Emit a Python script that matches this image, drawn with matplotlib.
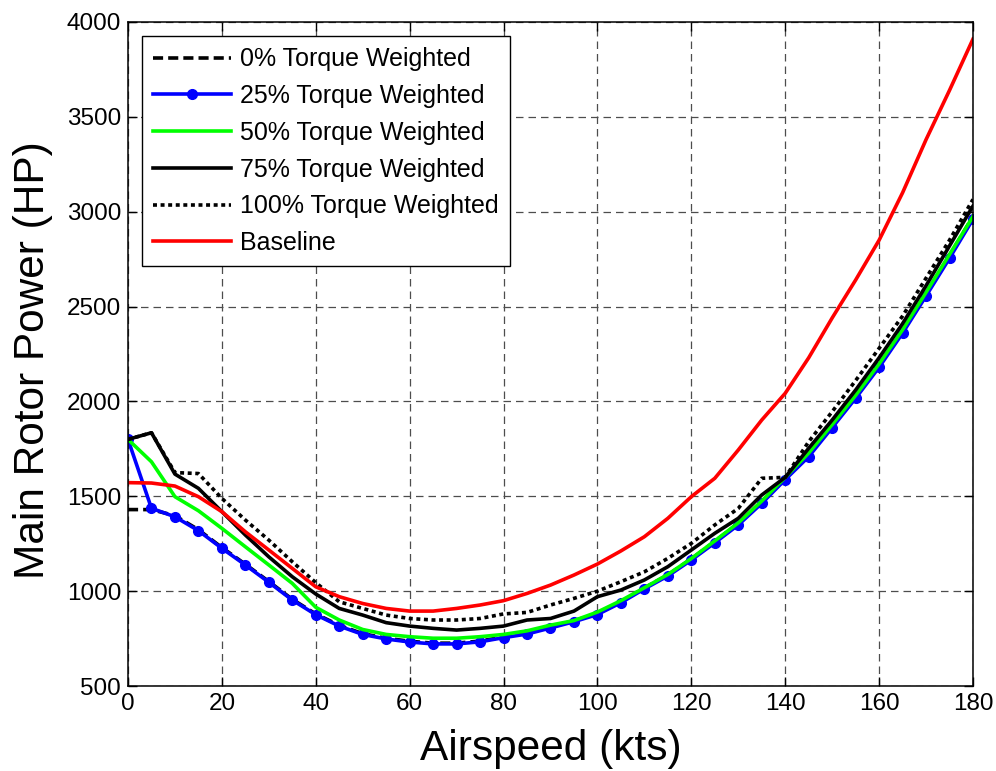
import matplotlib
matplotlib.use("Agg")
import matplotlib.pyplot as plt

plt.rcParams['font.family'] = ['Liberation Sans', 'DejaVu Sans']

airspeed = list(range(0, 181, 5))

tw0 = [1430, 1430, 1398, 1324, 1230, 1142, 1051, 957, 880, 820, 776, 752, 736, 726,
       726, 737, 759, 779, 811, 844, 882, 944, 1017, 1086, 1170, 1262, 1357, 1471,
       1596, 1719, 1872, 2028, 2192, 2372, 2568, 2768, 2975]
tw25 = [1800, 1437, 1392, 1319, 1226, 1138, 1047, 953, 876, 816, 772, 748, 732, 722,
        722, 733, 755, 774, 806, 839, 877, 939, 1012, 1080, 1164, 1255, 1349, 1463,
        1588, 1709, 1862, 2017, 2180, 2360, 2556, 2755, 2961]
tw50 = [1800, 1682, 1498, 1424, 1331, 1234, 1138, 1041, 915, 848, 798, 772, 760, 752,
        752, 760, 772, 791, 821, 845, 890, 950, 1018, 1088, 1172, 1265, 1360, 1475,
        1600, 1728, 1878, 2032, 2198, 2378, 2575, 2775, 2975]
tw75 = [1800, 1835, 1617, 1542, 1419, 1296, 1181, 1076, 985, 909, 874, 834, 816, 804,
        795, 804, 816, 848, 856, 895, 971, 1006, 1059, 1129, 1217, 1305, 1384, 1507,
        1600, 1753, 1902, 2060, 2230, 2410, 2610, 2820, 3030]
tw100 = [1800, 1835, 1625, 1620, 1489, 1375, 1269, 1155, 1045, 944, 909, 874, 856, 848,
         848, 856, 880, 888, 927, 962, 1000, 1050, 1102, 1173, 1252, 1349, 1436, 1595,
         1600, 1788, 1946, 2110, 2280, 2450, 2650, 2850, 3065]
baseline = [1572, 1570, 1554, 1498, 1419, 1313, 1217, 1120, 1023, 971, 935, 909, 895, 895,
            909, 927, 950, 988, 1032, 1085, 1143, 1212, 1287, 1384, 1498, 1595, 1744, 1902,
            2043, 2230, 2440, 2640, 2850, 3100, 3380, 3640, 3910]

fig = plt.figure(figsize=(9.96, 7.71), dpi=100)
ax = fig.add_axes([0.1285, 0.1102, 0.8484, 0.8613])

lw = 2.6
ax.plot(airspeed, tw0, color='black', lw=lw, dashes=(2.8, 1.4), label='0% Torque Weighted')
ax.plot(airspeed, tw25, color='#0000FF', lw=lw, marker='o', markersize=7,
        label='25% Torque Weighted')
ax.plot(airspeed, tw50, color='#00FF00', lw=lw, label='50% Torque Weighted')
ax.plot(airspeed, tw75, color='black', lw=lw, label='75% Torque Weighted')
ax.plot(airspeed, tw100, color='black', lw=lw, dashes=(1.1, 1.0), label='100% Torque Weighted')
ax.plot(airspeed, baseline, color='#FF0000', lw=lw, label='Baseline')

ax.set_xlim(0, 180)
ax.set_ylim(500, 4000)
ax.set_xticks(range(0, 181, 20))
ax.set_yticks(range(500, 4001, 500))
ax.grid(True, color='0.3', lw=0.9, dashes=(6, 4))
ax.tick_params(direction='in', top=True, right=True, length=6.5, width=1,
               labelsize=17.5, pad=5)
for s in ax.spines.values():
    s.set_linewidth(1.1)

ax.set_xlabel('Airspeed (kts)', fontsize=30.5)
ax.xaxis.set_label_coords(0.5, -0.112)
ax.xaxis.label.set_va('baseline')
ax.set_ylabel('Main Rotor Power (HP)', fontsize=30.5)
ax.yaxis.set_label_coords(-0.0994, 0.491)
ax.yaxis.label.set_va('baseline')

leg = ax.legend(loc='upper left', fontsize=18, handlelength=3.1, handletextpad=0.37,
                labelspacing=0.51, borderaxespad=0.57, borderpad=0.45, fancybox=False,
                framealpha=1, edgecolor='black')
leg.get_frame().set_linewidth(1.0)

fig.savefig('out.png', dpi=100)
